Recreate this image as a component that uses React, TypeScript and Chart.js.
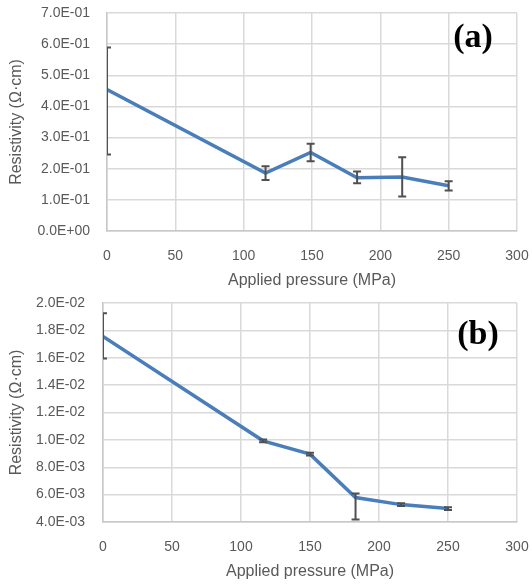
import React, { useEffect, useRef } from "react";
import { Chart, registerables } from "chart.js";

Chart.register(...registerables);

// ---- Data ----
const pressureA = [0, 116, 149, 183, 216, 250];
const resistivityA = [0.454, 0.186, 0.252, 0.171, 0.173, 0.145];
const errPlusA = [0.135, 0.022, 0.028, 0.02, 0.064, 0.015];
const errMinusA = [0.208, 0.022, 0.028, 0.018, 0.062, 0.015];

const pressureB = [0, 116, 150, 183, 216, 250];
const resistivityB = [0.01755, 0.00993, 0.00896, 0.00579, 0.00527, 0.00498];
const errPlusB = [0.0017, 0.0001, 0.0001, 0.0003, 0.0001, 0.0001];
const errMinusB = [0.0016, 0.0001, 0.0001, 0.0016, 0.0001, 0.0001];

const xTitle = "Applied pressure (MPa)";
const yTitle = "Resistivity (Ω·cm)";

const fmtExp = (v: number) => {
  const s = Number(v).toExponential(1).toUpperCase();
  const m = s.match(/^(-?[\d.]+)E([+-])(\d+)$/);
  if (!m) return s;
  return `${m[1]}E${m[2]}${m[3].padStart(2, "0")}`;
};

const TEXT = "#595959";
const GRID = "#d9d9d9";
const FONT = "'Liberation Sans', Arial, sans-serif";

type PanelProps = {
  xs: number[];
  ys: number[];
  plus: number[];
  minus: number[];
  yMin: number;
  yMax: number;
  yStep: number;
  label: string;
  height: number;
  yAxisWidth: number;
  xAxisHeight: number;
  xTitlePadBottom: number;
  yTickLen: number;
  labelX: number;
  labelY: number;
};

function Panel(p: PanelProps) {
  const ref = useRef<HTMLCanvasElement | null>(null);
  useEffect(() => {
    if (!ref.current) return;
    const errorBars = {
      id: "errorBars",
      afterDatasetsDraw(chart: any) {
        const { ctx, chartArea, scales } = chart;
        ctx.save();
        ctx.beginPath();
        ctx.rect(chartArea.left, chartArea.top, chartArea.right - chartArea.left, chartArea.bottom - chartArea.top);
        ctx.clip();
        ctx.strokeStyle = "#505050";
        ctx.lineWidth = 2;
        p.xs.forEach((x, i) => {
          const px = scales.x.getPixelForValue(x);
          const yt = scales.y.getPixelForValue(p.ys[i] + p.plus[i]);
          const yb = scales.y.getPixelForValue(p.ys[i] - p.minus[i]);
          ctx.beginPath();
          ctx.moveTo(px, yt);
          ctx.lineTo(px, yb);
          ctx.moveTo(px - 4, yt);
          ctx.lineTo(px + 4, yt);
          ctx.moveTo(px - 4, yb);
          ctx.lineTo(px + 4, yb);
          ctx.stroke();
        });
        ctx.restore();
        ctx.save();
        ctx.fillStyle = "#000";
        ctx.font = "bold 34px 'Liberation Serif', 'Times New Roman', serif";
        ctx.textAlign = "center";
        ctx.textBaseline = "alphabetic";
        ctx.fillText(p.label, p.labelX, p.labelY);
        ctx.restore();
      },
    };
    const chart = new Chart(ref.current, {
      type: "scatter",
      data: {
        datasets: [
          {
            data: p.xs.map((x, i) => ({ x, y: p.ys[i] })),
            showLine: true,
            borderColor: "#4a7ebb",
            backgroundColor: "#4a7ebb",
            borderWidth: 3.5,
            pointRadius: 0,
            tension: 0,
          },
        ],
      },
      options: {
        responsive: false,
        animation: false,
        devicePixelRatio: 1,
        layout: { padding: { left: 0, right: 15, top: 13, bottom: 0 } },
        plugins: { legend: { display: false }, tooltip: { enabled: false } },
        scales: {
          x: {
            type: "linear",
            min: 0,
            max: 300,
            ticks: {
              stepSize: 50,
              color: TEXT,
              padding: 3,
              font: { family: FONT, size: 14 },
            },
            grid: { color: GRID, lineWidth: 1.5, drawTicks: true, tickLength: 14, tickColor: "rgba(0,0,0,0)" },
            border: { color: "#c8c8c8", width: 1.5 },
            title: {
              display: true,
              text: xTitle,
              color: TEXT,
              padding: { top: 0, bottom: p.xTitlePadBottom },
              font: { family: FONT, size: 16 },
            },
            afterFit: (s: any) => {
              s.height = p.xAxisHeight;
            },
          },
          y: {
            type: "linear",
            min: p.yMin,
            max: p.yMax,
            ticks: {
              stepSize: p.yStep,
              color: TEXT,
              padding: 3,
              font: { family: FONT, size: 14 },
              callback: (v: any) => fmtExp(Number(v)),
            },
            grid: { color: GRID, lineWidth: 1.5, drawTicks: true, tickLength: p.yTickLen, tickColor: "rgba(0,0,0,0)" },
            border: { color: "#c8c8c8", width: 1.5 },
            title: {
              display: true,
              text: yTitle,
              color: TEXT,
              padding: { top: 7, bottom: 0 },
              font: { family: FONT, size: 16 },
            },
            afterFit: (s: any) => {
              s.width = p.yAxisWidth;
            },
          },
        },
      },
      plugins: [errorBars],
    } as any);
    return () => chart.destroy();
  }, []);
  return <canvas ref={ref} width={532} height={p.height} style={{ display: "block", width: 532, height: p.height }} />;
}

export default function App() {
  return (
    <div style={{ position: "fixed", left: 0, top: 0, width: 532, height: 587, background: "#fff" }}>
      <Panel
        xs={pressureA}
        ys={resistivityA}
        plus={errPlusA}
        minus={errMinusA}
        yMin={0}
        yMax={0.7}
        yStep={0.1}
        label="(a)"
        height={290}
        yAxisWidth={107}
        xAxisHeight={59}
        xTitlePadBottom={0}
        yTickLen={14}
        labelX={473}
        labelY={47}
      />
      <Panel
        xs={pressureB}
        ys={resistivityB}
        plus={errPlusB}
        minus={errMinusB}
        yMin={0.004}
        yMax={0.02}
        yStep={0.002}
        label="(b)"
        height={297}
        yAxisWidth={103}
        xAxisHeight={65}
        xTitlePadBottom={6}
        yTickLen={15}
        labelX={478}
        labelY={54}
      />
    </div>
  );
}
